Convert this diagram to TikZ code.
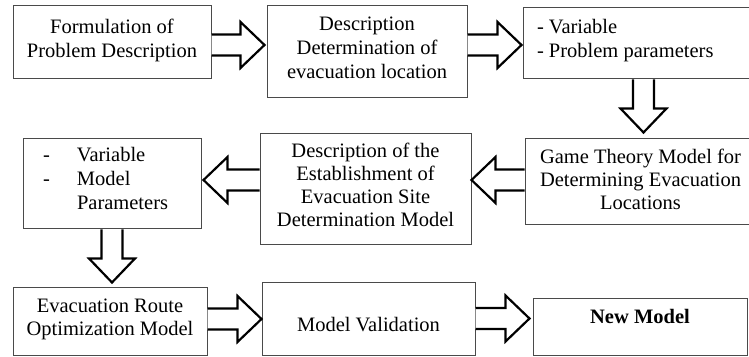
\documentclass[tikz,border=0pt]{standalone}
\usepackage{fontspec}
\setmainfont{Liberation Serif}
\usetikzlibrary{calc}

\definecolor{boxline}{HTML}{4A4A4A}

% text sizes used inside the boxes
\newcommand\boxfont{\fontsize{20.5}{24}\selectfont}
\newcommand\boxfonttight{\fontsize{20.5}{23}\selectfont}

% box contents: vertical nudge, tabular column spec, rows
\newcommand\boxlines[3]{\raisebox{#1}[\height][\depth]{\begin{tabular}{#2}#3\end{tabular}}}

% block arrow dimensions
\newcommand\shafthalf{10.5pt}
\newcommand\headhalf{23pt}
\newcommand\headlen{24pt}

% block arrows between two named boxes: from, to, axis position, gap before target
\newcommand\bigarrowright[4]{%
  \draw[blockarrow] let \p1=(#1.east), \p2=(#2.west) in
    (\x1,#3pt+\shafthalf) -- (\x2-#4pt-\headlen,#3pt+\shafthalf)
    -- (\x2-#4pt-\headlen,#3pt+\headhalf) -- (\x2-#4pt,#3pt)
    -- (\x2-#4pt-\headlen,#3pt-\headhalf) -- (\x2-#4pt-\headlen,#3pt-\shafthalf)
    -- (\x1,#3pt-\shafthalf);}
\newcommand\bigarrowleft[4]{%
  \draw[blockarrow] let \p1=(#1.west), \p2=(#2.east) in
    (\x1,#3pt+\shafthalf) -- (\x2+#4pt+\headlen,#3pt+\shafthalf)
    -- (\x2+#4pt+\headlen,#3pt+\headhalf) -- (\x2+#4pt,#3pt)
    -- (\x2+#4pt+\headlen,#3pt-\headhalf) -- (\x2+#4pt+\headlen,#3pt-\shafthalf)
    -- (\x1,#3pt-\shafthalf);}
\newcommand\bigarrowdown[4]{%
  \draw[blockarrow] let \p1=(#1.south), \p2=(#2.north) in
    (#3pt-\shafthalf,\y1) -- (#3pt-\shafthalf,\y2+#4pt+\headlen)
    -- (#3pt-\headhalf,\y2+#4pt+\headlen) -- (#3pt,\y2+#4pt)
    -- (#3pt+\headhalf,\y2+#4pt+\headlen) -- (#3pt+\shafthalf,\y2+#4pt+\headlen)
    -- (#3pt+\shafthalf,\y1);}

\tikzset{
  box/.style={draw=boxline, line width=1pt, rectangle, inner sep=0pt,
    fill=white, font=\boxfont, text=black},
  blockarrow/.style={draw=black, line width=2.2pt, fill=white, line join=miter},
}

\begin{document}
\begin{tikzpicture}[x=1pt, y=1pt]
\useasboundingbox (0,0) rectangle (749,356);
\clip (0,0) rectangle (749,356);

% top row
\node[box, minimum width=198pt, minimum height=73pt] (formul) at (112,313.5)
  {\boxlines{2pt}{@{}c@{}}{Formulation of\\Problem Description}};
\node[box, minimum width=200pt, minimum height=92pt] (locdesc) at (367,304)
  {\boxlines{2pt}{@{}c@{}}{Description\\Determination of\\evacuation location}};
\node[box, minimum width=242pt, minimum height=71pt] (vars1) at (644,312.5)
  {\boxlines{3pt}{@{}p{214pt}@{}}{- Variable\\- Problem parameters}};

% middle row
\node[box, font=\boxfonttight, minimum width=231pt, minimum height=86pt] (game) at (640.5,174)
  {\boxlines{0pt}{@{}c@{}}{Game Theory Model for\\Determining Evacuation\\Locations}};
\node[box, font=\boxfonttight, minimum width=211pt, minimum height=111pt] (estab) at (365.5,166.5)
  {\boxlines{2pt}{@{}c@{}}{Description of the\\Establishment of\\Evacuation Site\\Determination Model}};
\node[box, minimum width=178pt, minimum height=90pt] (vars2) at (112,172)
  {\boxlines{3pt}{@{}p{34pt}@{}p{104pt}@{}}{-&Variable\\-&Model\\&Parameters}};

% bottom row
\node[box, font=\boxfonttight, minimum width=194pt, minimum height=67pt] (route) at (110,34.5)
  {\boxlines{2.5pt}{@{}c@{}}{Evacuation Route\\Optimization Model}};
\node[box, minimum width=213pt, minimum height=72pt] (valid) at (368.5,37)
  {\boxlines{-8pt}{@{}c@{}}{Model Validation}};
\node[box, minimum width=214pt, minimum height=56pt] (newmodel) at (640,29)
  {\boxlines{8pt}{@{}c@{}}{\textbf{New Model}}};

% block arrows
\bigarrowright{formul}{locdesc}{311}{2}
\bigarrowright{locdesc}{vars1}{311}{1}
\bigarrowdown{vars1}{game}{643.5}{6}
\bigarrowleft{game}{estab}{176}{0}
\bigarrowleft{estab}{vars2}{176}{2}
\bigarrowdown{vars2}{route}{112}{5}
\bigarrowright{route}{valid}{37}{0}
\bigarrowright{valid}{newmodel}{37.5}{3}
\end{tikzpicture}
\end{document}
